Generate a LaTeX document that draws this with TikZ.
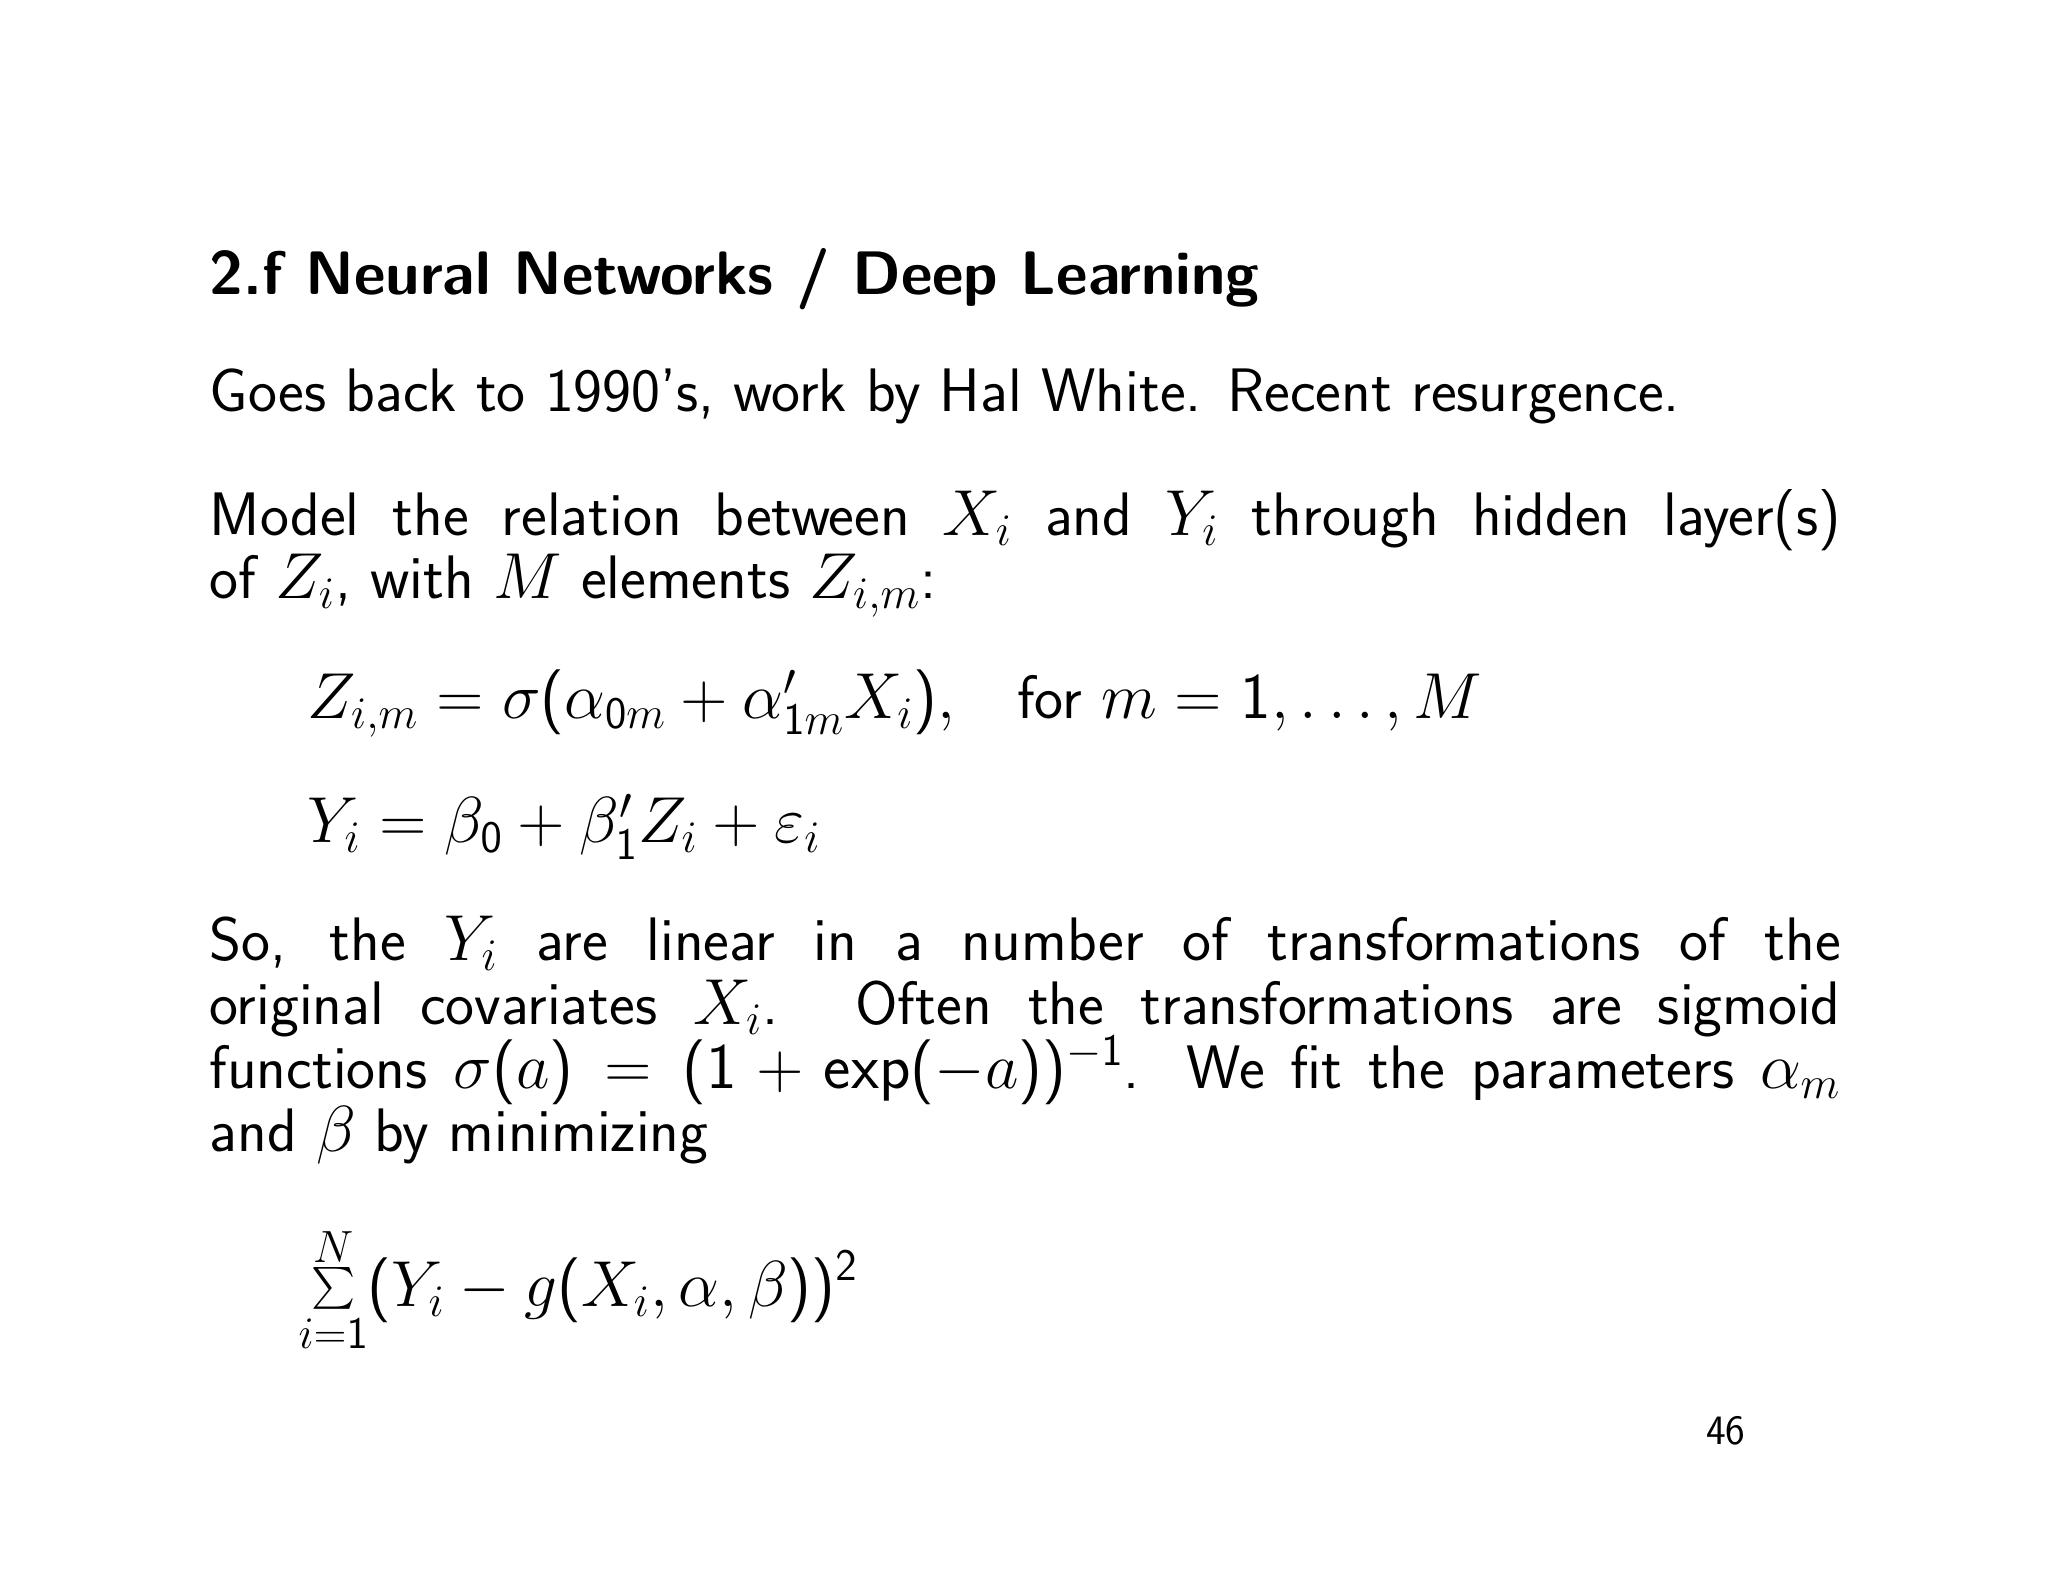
\documentclass[tikz,border=0pt]{standalone}
\usepackage{graphicx}
\renewcommand{\familydefault}{\sfdefault}
\DeclareSymbolFont{operators}{OT1}{cmss}{m}{n}
\newcommand{\bigsumop}{\mathop{\vcenter{\hbox{\scalebox{1.6}{$\sum$}}}}\limits}
\begin{document}
\begin{tikzpicture}[x=0.5pt,y=-0.5pt,
  txt/.style={anchor=base west,inner sep=0pt,font=\fontsize{23.5}{28}\selectfont}]
\useasboundingbox (0,0) rectangle (1567,1210);
\node[txt,font=\fontsize{23.5}{28}\selectfont\bfseries] (title) at (160,225) {2.f Neural Networks / Deep Learning};
\node[txt] (l1) at (160,315) {Goes back to 1990's, work by Hal White.  Recent resurgence.};
\node[txt] (l2) at (160,410) {\makebox[624pt][s]{Model the relation between $X_i$ and $Y_i$ through hidden layer(s)}};
\node[txt] (l3) at (160,458) {of $Z_i$, with $M$ elements $Z_{i,m}$:};
\node[txt] (e1) at (235,550) {$Z_{i,m}=\sigma(\alpha_{0m}+\alpha'_{1m}X_i),$};
\node[txt] (e1b) at (778,550) {for $m=1,\ldots,M$};
\node[txt] (e2) at (235,645) {$Y_i=\beta_0+\beta'_1Z_i+\varepsilon_i$};
\node[txt] (p1) at (160,735) {\makebox[624pt][s]{So, the $Y_i$ are linear in a number of transformations of the}};
\node[txt] (p2) at (160,784) {\makebox[624pt][s]{original covariates $X_i$.  Often the transformations are sigmoid}};
\node[txt] (p3) at (160,833) {\makebox[624pt][s]{functions $\sigma(a)=(1+\exp(-a))^{-1}$.  We fit the parameters $\alpha_m$}};
\node[txt] (p4) at (160,881) {and $\beta$ by minimizing};
\node[txt] (sum) at (228,1000) {$\displaystyle\bigsumop_{i=1}^N (Y_i-g(X_i,\alpha,\beta))^2$};
\node[txt,font=\fontsize{16}{18}\selectfont] (pg) at (1305,1105) {46};
\end{tikzpicture}
\end{document}
